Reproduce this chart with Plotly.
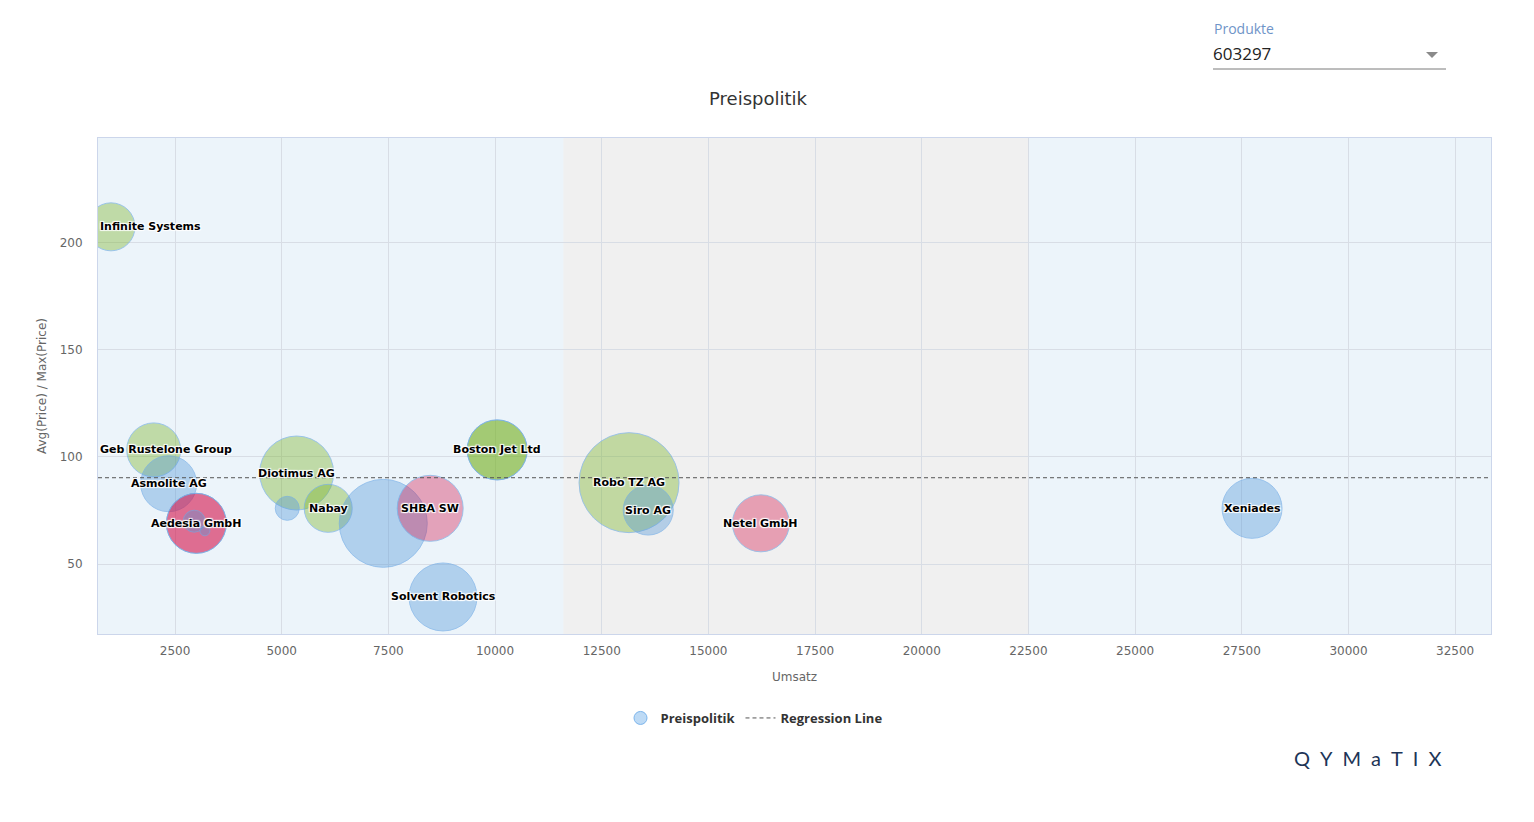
import plotly.graph_objects as go

# ---------------- data ----------------
names = ["Infinite Systems", "Geb Rustelone Group", "Asmolite AG", "Aedesia GmbH", "Aedesia GmbH",
         "", "", "Diotimus AG", "", "Nabay", "", "SHBA SW", "Solvent Robotics",
         "Boston Jet Ltd", "Boston Jet Ltd", "Robo TZ AG", "Siro AG", "Netel GmbH", "Xeniades"]
umsatz = [1000, 2000, 2350, 3000, 3000,
          2950, 3200, 5350, 5130, 6090, 7380, 8480, 8780,
          10050, 10050, 13140, 13590, 16230, 27740]
price_ratio = [207.5, 103.3, 87.5, 69.0, 69.0,
               70.0, 65.5, 92.5, 76.0, 76.0, 69.0, 76.0, 34.6,
               103.3, 103.3, 88.0, 75.2, 69.0, 76.0]
volume = [24, 27, 28, 30, 30,
          11, 5, 37, 12, 24, 44, 33, 34,
          30, 30, 50, 25, 28.5, 30]
segment = ["green", "green", "blue", "red", "red",
           "blue", "blue", "green", "blue", "green", "blue", "red", "blue",
           "green", "green", "green", "blue", "red", "blue"]

x_ticks = [2500, 5000, 7500, 10000, 12500, 15000, 17500, 20000, 22500, 25000, 27500, 30000, 32500]
y_ticks = [50, 100, 150, 200]
x_range = [695, 33340]
y_range = [17.3, 249]
band_range = [11600, 22500]
reg_x = [695, 33340]
reg_y = [90.3, 90.3]
justify_left = {"Infinite Systems", "Geb Rustelone Group"}

# ---------------- style ----------------
seg_colors = {
    "blue": "rgba(84,152,216,0.55)",
    "green": "rgba(120,178,36,0.55)",
    "red": "rgba(213,22,74,0.52)",
}
FONT = "DejaVu Sans"
OFF = 8  # page offset of the plot div
W, H = 1534, 822
PL, PR, PT, PB = 98 - OFF, 1491 - OFF, 138 - OFF, 634 - OFF  # plot box in figure px
ML, MR, MT, MB = PL, W - PR, PT, H - PB
PW, PH = PR - PL, PB - PT


def px2x(px):
    return (px - OFF - PL) / PW


def py2y(py):
    return (PB - (py - OFF)) / PH


fig = go.Figure()

fig.add_trace(go.Scatter(
    x=umsatz, y=price_ratio, mode="markers", showlegend=False, name="Preispolitik",
    marker=dict(size=volume, sizemode="diameter", sizeref=0.5,
                color=[seg_colors[s] for s in segment],
                line=dict(color="rgba(110,170,230,0.9)", width=1)),
    text=names, hoverinfo="x+y+text",
))

# legend dummy for bubbles
fig.add_trace(go.Scatter(
    x=[None], y=[None], mode="markers", name="Preispolitik",
    marker=dict(size=13, color="rgba(124,181,236,0.5)", line=dict(color="#7cb5ec", width=1)),
))

fig.add_trace(go.Scatter(
    x=reg_x, y=reg_y, mode="lines", name="Regression Line",
    line=dict(color="#555555", width=1, dash="4px,3px"), hoverinfo="skip",
))

# labels
shadow = "1px 1px 1px #fff, -1px -1px 1px #fff, 1px -1px 1px #fff, -1px 1px 1px #fff"
seen = set()
for n, xv, yv in zip(names, umsatz, price_ratio):
    if not n or n in seen:
        continue
    seen.add(n)
    if n in justify_left:
        ax, anc = x_range[0], "left"
    else:
        ax, anc = xv, "center"
    fig.add_annotation(x=ax, y=yv, text=n, showarrow=False, xanchor=anc, yanchor="middle",
                       font=dict(family=FONT, size=11, color="#000", weight="bold", shadow=shadow))

# plot band
fig.add_shape(type="rect", xref="x", yref="paper", x0=band_range[0], x1=band_range[1], y0=0, y1=1,
              fillcolor="#f0f0f0", line=dict(width=0), layer="below")

# dropdown mimic
fig.add_annotation(xref="paper", yref="paper", x=px2x(1212), y=py2y(28), text="Produkte",
                   showarrow=False, xanchor="left", yanchor="middle",
                   font=dict(family="Open Sans", size=14, color="#6f94c8"))
fig.add_annotation(xref="paper", yref="paper", x=px2x(1211), y=py2y(54), text="603297",
                   showarrow=False, xanchor="left", yanchor="middle",
                   font=dict(family="Open Sans", size=17, color="#222"))
fig.add_shape(type="line", xref="paper", yref="paper", x0=px2x(1213), x1=px2x(1446),
              y0=py2y(69), y1=py2y(69), line=dict(color="#7a7a7a", width=1))
fig.add_shape(type="path", xref="paper", yref="paper",
              path=f"M {px2x(1426)} {py2y(52)} L {px2x(1438)} {py2y(52)} L {px2x(1432)} {py2y(58)} Z",
              fillcolor="#8a8a8a", line=dict(width=0))

# logo
fig.add_annotation(xref="paper", yref="paper", x=px2x(1367), y=py2y(758),
                   text="Q\u2002Y\u2002M\u2002a\u2002T\u2002I\u2002X", showarrow=False,
                   xanchor="center", yanchor="middle",
                   font=dict(family="Lato", size=20, color="#1d3557"))

# axis titles
fig.add_annotation(xref="paper", yref="paper", x=0.5, y=py2y(677), text="Umsatz", showarrow=False,
                   xanchor="center", yanchor="middle", font=dict(family=FONT, size=12, color="#666"))
fig.add_annotation(xref="paper", yref="paper", x=px2x(42), y=0.5, text="Avg(Price) / Max(Price)",
                   showarrow=False, textangle=-90, xanchor="center", yanchor="middle",
                   font=dict(family=FONT, size=12, color="#666"))

fig.update_layout(
    width=W, height=H,
    margin=dict(l=ML, r=MR, t=MT, b=MB, autoexpand=False),
    paper_bgcolor="#ffffff", plot_bgcolor="#ecf4fa",
    title=dict(text="Preispolitik", x=(758 - OFF) / W, xref="container", y=1 - (99 - OFF) / H,
               yref="container", xanchor="center", yanchor="middle",
               font=dict(family=FONT, size=18, color="#333")),
    legend=dict(orientation="h", x=px2x(754), xanchor="center", y=py2y(718), yanchor="middle",
                font=dict(family="Open Sans", size=13, color="#333", weight="bold"),
                itemsizing="trace", bgcolor="rgba(0,0,0,0)"),
    xaxis=dict(range=x_range, tickvals=x_ticks, ticktext=[str(v) for v in x_ticks],
               showgrid=True, gridcolor="#d8dde5", gridwidth=1, zeroline=False,
               showline=True, linecolor="#ccd6eb", linewidth=1, mirror=True,
               ticks="outside", ticklen=6, tickcolor="rgba(0,0,0,0)",
               tickfont=dict(family=FONT, size=12, color="#666")),
    yaxis=dict(range=y_range, tickvals=y_ticks, ticktext=[str(v) for v in y_ticks],
               showgrid=True, gridcolor="#d8dde5", gridwidth=1, zeroline=False,
               showline=True, linecolor="#ccd6eb", linewidth=1, mirror=True,
               ticks="outside", ticklen=12, tickcolor="rgba(0,0,0,0)",
               tickfont=dict(family=FONT, size=12, color="#666")),
    showlegend=True, hovermode="closest",
)

fig.write_html("out.html")
